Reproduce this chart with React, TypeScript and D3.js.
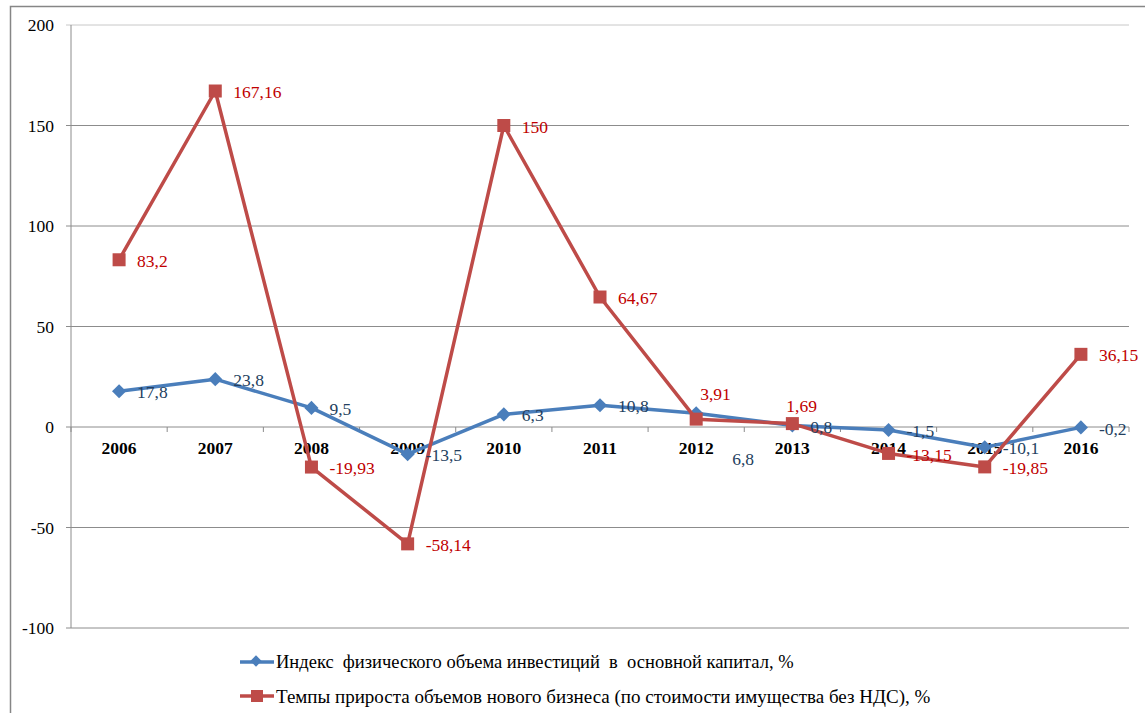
import React from "react";
import * as d3 from "d3";

const years = ["2006", "2007", "2008", "2009", "2010", "2011", "2012", "2013", "2014", "2015", "2016"];
const investIndex = [17.8, 23.8, 9.5, -13.5, 6.3, 10.8, 6.8, 0.8, -1.5, -10.1, -0.2];
const businessGrowth = [83.2, 167.16, -19.93, -58.14, 150, 64.67, 3.91, 1.69, -13.15, -19.85, 36.15];
const yTicks = [-100, -50, 0, 50, 100, 150, 200];
const seriesNames = [
  "Индекс  физического объема инвестиций  в  основной капитал, %",
  "Темпы прироста объемов нового бизнеса (по стоимости имущества без НДС), %",
];
// label placement tweaks (dx, dy) per point; null = default right
const blueLabelShift: ([number, number] | null)[] = [null, null, null, null, null, null, [36, 46], null, null, null, null];
const redLabelShift: ([number, number] | null)[] = [null, null, null, null, null, null, [4, -25], [-6, -18], null, null, null];

const fmt = (v: number) => String(v).replace(".", ",");

export default function App() {
  const W = 1145, H = 713;
  const left = 71, right = 1129, top = 25, bottom = 628;
  const x = d3.scaleBand<string>().domain(years).range([left, right]);
  const y = d3.scaleLinear().domain([-100, 200]).range([bottom, top]);
  const cx = (i: number) => (x(years[i]) as number) + x.bandwidth() / 2;
  const line = d3.line<number>().x((_, i) => cx(i)).y((d) => y(d));
  const font = "Liberation Serif, Tinos, Times New Roman, DejaVu Serif, serif";
  const tf = { fontFamily: font, whiteSpace: "pre" as const };
  const blue = "#4a7ebb";
  const red = "#be4b48";
  const blueText = "#243f60";
  const redText = "#c00000";
  const y0 = y(0);

  const labels = (vals: number[], shifts: ([number, number] | null)[], color: string) =>
    vals.map((v, i) => {
      const s = shifts[i];
      const dx = s ? s[0] : 18;
      const dy = s ? s[1] : 1;
      return (
        <text key={i} x={cx(i) + dx} y={y(v) + dy} dy="0.35em" fontSize={17.5} fill={color} style={tf}>
          {fmt(v)}
        </text>
      );
    });

  return (
    <svg width={W} height={H} style={{ position: "absolute", left: 0, top: 0, background: "#fff" }}>
      <rect x={10.5} y={6.5} width={1150} height={720} fill="#fff" stroke="#868686" strokeWidth={1.5} />
      {yTicks.map((t) => (
        <g key={t}>
          <line x1={66} x2={right} y1={y(t)} y2={y(t)} stroke={t === 200 ? "#c8c8c8" : "#8c8c8c"} strokeWidth={1} />
          <text x={54} y={y(t)} dy="0.35em" textAnchor="end" fontSize={17.5} style={tf} fill="#000">
            {t}
          </text>
        </g>
      ))}
      <line x1={left} x2={left} y1={top} y2={bottom} stroke="#8c8c8c" />
      {d3.range(years.length + 1).map((i) => {
        const xx = left + i * x.bandwidth();
        return <line key={i} x1={xx} x2={xx} y1={y0} y2={y0 + 5} stroke="#8c8c8c" />;
      })}
      {years.map((yr, i) => (
        <text key={yr} x={cx(i)} y={y0 + 21} dy="0.35em" textAnchor="middle" fontSize={17.5} fontWeight="bold" style={tf}>
          {yr}
        </text>
      ))}
      <path d={line(investIndex) || ""} fill="none" stroke={blue} strokeWidth={3.5} strokeLinejoin="round" />
      {investIndex.map((v, i) => (
        <rect key={i} x={cx(i) - 5} y={y(v) - 5} width={10} height={10} fill={blue} transform={`rotate(45 ${cx(i)} ${y(v)})`} />
      ))}
      <path d={line(businessGrowth) || ""} fill="none" stroke={red} strokeWidth={3.5} strokeLinejoin="round" />
      {businessGrowth.map((v, i) => (
        <rect key={i} x={cx(i) - 6.5} y={y(v) - 6.5} width={13} height={13} fill={red} />
      ))}
      {labels(investIndex, blueLabelShift, blueText)}
      {labels(businessGrowth, redLabelShift, redText)}
      <g>
        <line x1={240} x2={274} y1={662} y2={662} stroke={blue} strokeWidth={3.5} />
        <rect x={252} y={657} width={8} height={8} fill={blue} transform="rotate(45 256 661)" />
        <text x={276} y={662} dy="0.35em" fontSize={18.5} style={tf}>{seriesNames[0]}</text>
        <line x1={240} x2={274} y1={696} y2={696} stroke={red} strokeWidth={3.5} />
        <rect x={251} y={690} width={12} height={12} fill={red} />
        <text x={276} y={696} dy="0.35em" fontSize={19} style={tf}>{seriesNames[1]}</text>
      </g>
    </svg>
  );
}
